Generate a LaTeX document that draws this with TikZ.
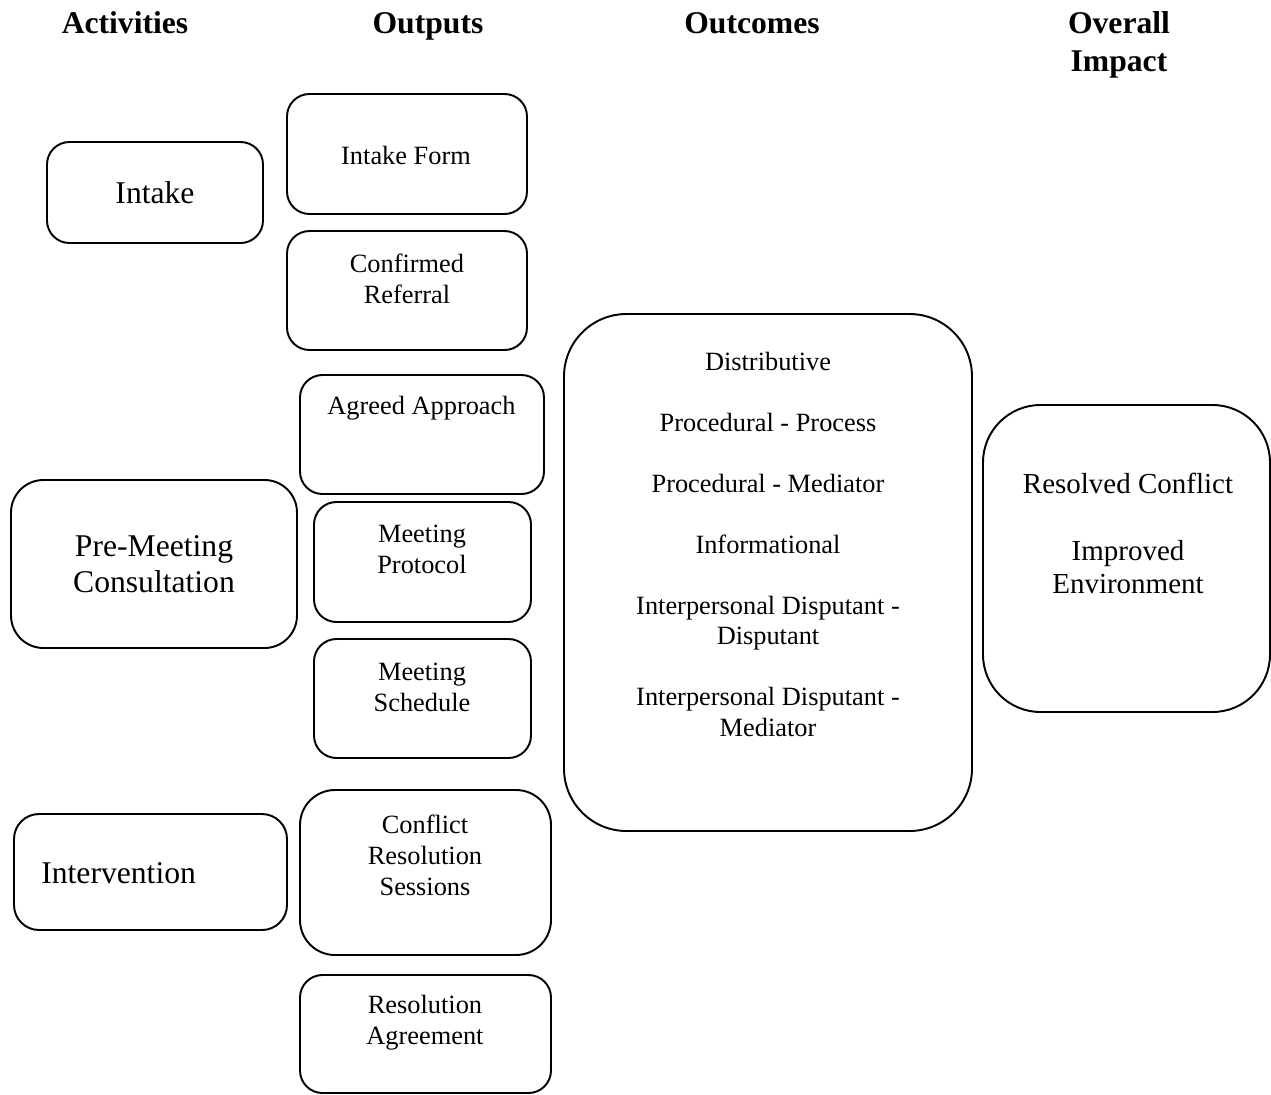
\documentclass[tikz,border=0pt]{standalone}
\usepackage{fontspec}
\setmainfont{Liberation Serif}
\usetikzlibrary{positioning}

\begin{document}
\begin{tikzpicture}[
    font=\fontsize{15}{17.6}\selectfont,
    box/.style={draw, line width=1.1pt, rounded corners=0.45cm, inner sep=0pt},
    sz/.style 2 args={minimum width=#1cm, minimum height=#2cm},
    head/.style={font=\fontsize{18}{21.6}\selectfont\bfseries, align=center, inner sep=0pt},
    act/.style={font=\fontsize{18}{20.5}\selectfont, align=center},
    otxt/.style={font=\fontsize{15}{17.6}\selectfont, align=center, inner sep=0pt},
    imp/.style={font=\fontsize{16.5}{18.8}\selectfont, align=center, inner sep=0pt}
  ]
  \useasboundingbox (0,0) rectangle (25.42,-21.9);

  % column headings
  \node[head, anchor=base] (hact) at (2.50,-0.66) {Activities};
  \node[head, anchor=base] (hout) at (8.56,-0.66) {Outputs};
  \node[head, anchor=base] (hocm) at (15.04,-0.66) {Outcomes};
  \node[head, anchor=north] (himp) at (22.38,-0.22) {Overall\\Impact};

  % activities
  \node[box, sz={4.32}{2.02}, act] (intake) at (3.10,-3.85) {Intake};
  \node[box, sz={5.72}{3.36}, act, rounded corners=0.65cm] (premeet) at (3.08,-11.28) {Pre-Meeting\\Consultation};
  \node[box, sz={5.46}{2.32}, rounded corners=0.5cm] (interv) at (3.01,-17.44) {};
  \node[act, anchor=west, inner sep=0pt] (intervT) at (0.82,-17.46) {Intervention};

  % outputs
  \node[box, sz={4.80}{2.40}] (iform) at (8.14,-3.08) {};
  \node[otxt] (iformT) at (8.12,-3.10) {Intake Form};
  \node[box, sz={4.80}{2.38}] (cref) at (8.14,-5.81) {};
  \node[otxt] (crefT) at (8.14,-5.57) {Confirmed\\Referral};
  \node[box, sz={4.88}{2.38}] (agreed) at (8.44,-8.69) {};
  \node[otxt] (agreedT) at (8.43,-8.16) {Agreed Approach};
  \node[box, sz={4.34}{2.40}] (mprot) at (8.45,-11.24) {};
  \node[otxt] (mprotT) at (8.44,-10.99) {Meeting\\Protocol};
  \node[box, sz={4.34}{2.38}] (msched) at (8.45,-13.97) {};
  \node[otxt] (mschedT) at (8.44,-13.74) {Meeting\\Schedule};
  \node[box, sz={5.02}{3.30}, rounded corners=0.7cm] (crs) at (8.51,-17.45) {};
  \node[otxt] (crsT) at (8.50,-17.10) {Conflict\\Resolution\\Sessions};
  \node[box, sz={5.02}{2.36}] (ragree) at (8.51,-20.68) {};
  \node[otxt] (ragreeT) at (8.50,-20.45) {Resolution\\Agreement};

  % outcomes
  \node[box, sz={8.16}{10.34}, rounded corners=1.25cm] (outc) at (15.36,-11.45) {};
  \node[otxt, anchor=north] (outcT) at (15.36,-7.03)
    {Distributive\\[17.1pt]
     Procedural - Process\\[17.1pt]
     Procedural - Mediator\\[17.1pt]
     Informational\\[17.1pt]
     Interpersonal Disputant -\\Disputant\\[17.1pt]
     Interpersonal Disputant -\\Mediator};

  % overall impact
  \node[box, sz={5.74}{6.14}, rounded corners=1.15cm] (impact) at (22.53,-11.17) {};
  \node[imp, anchor=north] (impactT) at (22.56,-9.46)
    {Resolved Conflict\\[19.3pt]
     Improved\\Environment};
\end{tikzpicture}
\end{document}
